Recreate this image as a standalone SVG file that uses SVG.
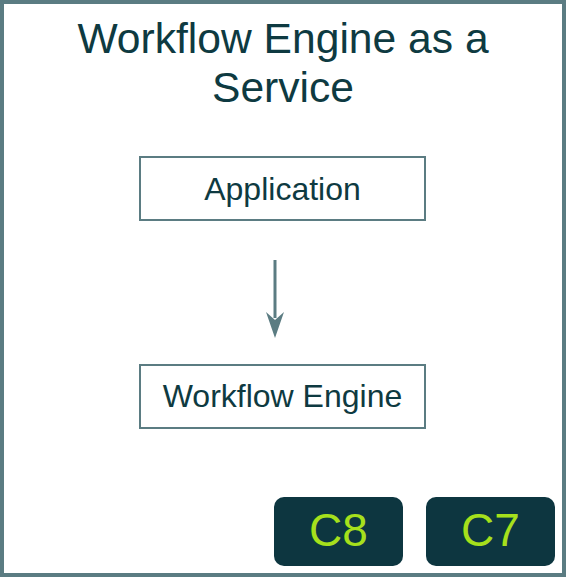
<svg xmlns="http://www.w3.org/2000/svg" width="566" height="577" viewBox="0 0 566 577">
  <style>
    .frame { fill: #ffffff; stroke: #5b7c82; stroke-width: 4; }
    .box { fill: #ffffff; stroke: #5b7c82; stroke-width: 2; }
    .lbl { font-family: "Liberation Sans", Arial, sans-serif; fill: #0e3a41; text-anchor: middle; }
    .tag { fill: #0d3640; }
    .tagtxt { font-family: "Liberation Sans", Arial, sans-serif; fill: #a6e01c; text-anchor: middle; font-size: 46px; }
    .conn { stroke: #5b7c82; stroke-width: 3; fill: none; }
    .head { fill: #5b7c82; }
  </style>
  <rect class="frame" x="2" y="2" width="562" height="573"/>
  <g id="title">
    <text class="lbl" x="283" y="53" font-size="42.6">Workflow Engine as a</text>
    <text class="lbl" x="283" y="102" font-size="42.6">Service</text>
  </g>
  <g id="application">
    <rect class="box" x="140" y="157" width="285" height="63"/>
    <text class="lbl" x="282.5" y="200" font-size="32">Application</text>
  </g>
  <g id="workflow-engine">
    <rect class="box" x="140" y="365" width="285" height="63"/>
    <text class="lbl" x="282.5" y="407" font-size="32">Workflow Engine</text>
  </g>
  <g id="connectors">
    <line class="conn" x1="275" y1="260" x2="275" y2="318"/>
    <path class="head" d="M266,312 L275,320 L284,312 L275,338 Z"/>
  </g>
  <g id="c8">
    <rect class="tag" x="274" y="497" width="129" height="69" rx="10"/>
    <text class="tagtxt" x="338.5" y="546">C8</text>
  </g>
  <g id="c7">
    <rect class="tag" x="426" y="497" width="129" height="69" rx="10"/>
    <text class="tagtxt" x="490.5" y="546">C7</text>
  </g>
</svg>
